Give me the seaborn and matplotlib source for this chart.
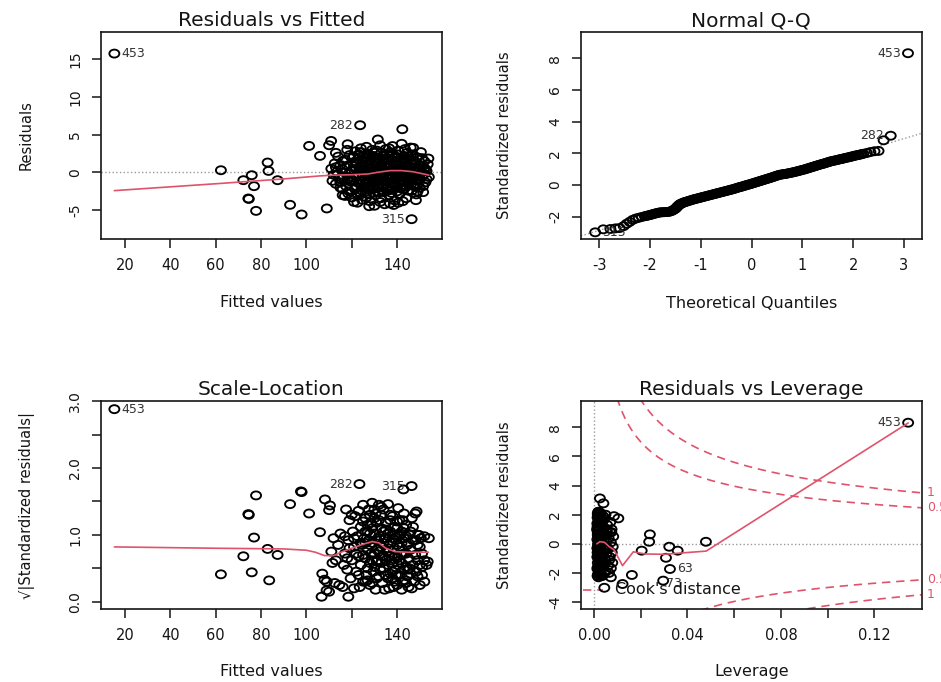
import numpy as np
import seaborn as sns
import matplotlib
matplotlib.use("Agg")
import matplotlib.pyplot as plt
from matplotlib.markers import MarkerStyle
from matplotlib.transforms import Affine2D

# %% data

# Residuals vs Fitted: isolated points
rf_fit_iso = [15.3, 62.3, 72.2, 75.9, 74.4, 74.6, 76.9, 77.8, 82.9, 83.3, 87.3, 92.8, 97.9, 101.2, 106.0,
              109.0, 110.9, 110.0, 118.2, 123.7, 142.3, 146.4, 148.3, 153.8, 131.5, 147.1, 136.9, 127.7, 118.5]
rf_res_iso = [15.74, 0.30, -1.02, -0.36, -3.44, -3.50, -1.81, -5.08, 1.32, 0.21, -1.02, -4.28, -5.56, 3.52, 2.20,
              -4.76, 4.18, 3.61, 3.74, 6.26, 5.73, -6.18, -3.66, 1.85, 4.37, 3.26, -4.10, -4.46, -2.78]
# Residuals vs Fitted: the main cloud
rf_fit = [111, 112, 112.5, 113, 113.5, 114, 114.5, 115, 115, 111.5,
          113, 116, 116, 116.5, 117, 117.5, 118, 118.5, 119, 119,
          119.5, 120, 117, 118, 120, 116, 120.5, 121, 121.5, 122,
          122, 122.5, 123, 123, 123.5, 124, 124, 124.5, 125, 125,
          121, 122.5, 124.5, 125.5, 126, 126, 126.5, 127, 127, 127.5,
          128, 128, 128.5, 128.5, 129, 129, 129.5, 130, 130, 126.5,
          127.5, 129.5, 128, 130.5, 131, 131, 131.5, 132, 132, 132.5,
          133, 133, 133.5, 134, 134, 134.5, 135, 135, 130.5, 132.5,
          134.5, 131.5, 133.5, 131, 135.5, 136, 136, 136.5, 137, 137,
          137.5, 138, 138, 138.5, 139, 139, 139.5, 140, 140, 136.5,
          138.5, 137.5, 139.5, 136, 138, 140.5, 141, 141, 141.5, 142,
          142, 142.5, 143, 143, 143.5, 144, 144, 144.5, 145, 145,
          140.5, 142.5, 143.5, 141.5, 145.5, 146, 146, 146.5, 147, 147,
          147.5, 148, 148, 148.5, 149, 149, 149.5, 150, 150, 146.5,
          150.5, 151, 151, 151.5, 152, 152, 152.5, 153, 153.5, 154,
          151.5, 152.5, 120, 121, 122, 123, 124, 125, 126, 127,
          128, 129, 130, 131, 132, 133, 134, 135, 136, 137,
          138, 139, 140, 141, 142, 143, 144, 145, 146, 147,
          148, 149, 121.5, 123.5, 125.5, 127.5, 129.5, 131.5, 133.5, 135.5,
          137.5, 139.5, 141.5, 143.5, 145.5, 147.5, 124, 126, 130, 134,
          138, 142, 146, 128, 132, 136, 140, 144, 126, 130,
          134, 138]
rf_res = [0.5, -0.3, 1.2, -1.5, 0.1, 2.1, -0.8, -2.0, 1.0, -1.1,
          2.6, -3.0, 0.4, -0.6, 1.7, -1.8, 0.9, -0.2, -2.5, 2.3,
          -1.2, 0.2, -3.1, 3.0, -3.3, 1.5, 1.3, -0.7, 2.8, -1.9,
          0.5, -2.8, 1.8, -0.2, -1.1, 3.2, 0.9, -3.6, -0.5, 2.1,
          -3.9, -4.0, -2.4, 0.3, -1.6, 1.4, 3.4, -0.9, 2.5, -2.9,
          0.7, -3.8, 1.9, -0.1, -1.4, 3.0, -2.2, 0.4, -4.4, -3.3,
          1.0, 2.2, -0.6, 1.6, -0.8, 2.9, -2.6, 0.2, -1.7, 3.6,
          1.1, -3.4, -0.3, 2.3, -1.2, 0.8, -2.1, 3.1, -3.0, -3.9,
          -4.2, 0.9, 1.8, -1.9, 0.5, -0.6, 1.9, -3.0, 2.7, -1.4,
          0.1, 3.5, -2.3, 1.2, -0.9, -3.7, 2.1, 0.6, -1.8, 3.2,
          -4.3, -2.7, 1.5, 0.9, -0.4, 2.9, -0.2, -2.9, 1.4, -1.3,
          3.8, 0.4, -2.2, 2.2, -0.7, 1.0, -3.4, 2.6, -1.5, 0.2,
          -4.0, -3.8, 3.1, 0.8, 1.8, -0.9, 3.3, -2.4, 0.6, 2.4,
          -1.7, 1.2, -0.3, -2.9, 2.0, 0.3, -1.1, 1.0, -2.0, 0.0,
          2.7, -0.5, 0.8, -1.8, 1.5, -0.2, 0.4, -0.9, 1.1, -0.6,
          -2.6, -1.3, -1.0, 0.8, -0.4, 2.4, -1.6, 1.0, -0.2, 0.2,
          2.3, -0.8, 1.2, 0.1, -0.9, 0.5, -2.6, -0.4, -1.9, 1.0,
          0.4, -1.6, 1.9, -1.0, 0.9, -0.1, -1.9, 2.1, -1.2, -0.5,
          0.7, -1.6, -2.2, 0.3, -2.0, -1.3, 0.9, 1.9, -2.0, 2.4,
          -0.8, -0.2, -2.1, 1.4, -0.6, 0.3, 2.7, 2.0, 2.6, 1.5,
          2.5, 1.7, 1.5, -2.3, -2.6, -2.4, -2.5, -0.9, -2.6, -1.9,
          0.0, -1.2]
rf_fit_core = [119, 120.5, 122, 123.5, 125, 126.5, 128, 129.5, 131, 132.5,
               134, 135.5, 137, 138.5, 140, 141.5, 143, 144.5, 146, 147.5,
               121, 123, 125, 127, 129, 131, 133, 135, 137, 139,
               141, 143, 145, 147, 149, 124, 128, 132, 136, 140,
               144, 148, 122, 126, 130, 134, 138, 142, 146, 150,
               117, 115, 113, 118, 116, 150, 152, 149, 151, 153]
rf_res_core = [-0.6, 2.0, 1.1, -2.6, 0.7, -1.2, 1.5, -2.7, 0.5, -0.5,
               -0.7, 1.2, -2.2, -1.5, 2.4, 0.2, 0.9, -1.2, 0.6, 1.6,
               2.1, -1.4, -1.1, 1.6, -0.5, -1.1, 2.6, 1.7, -0.2, 0.9,
               1.1, -1.6, -2.4, -1.0, -0.4, -2.9, 0.1, 1.3, 0.2, -0.7,
               0.5, -1.9, 1.4, -0.9, -0.8, -1.7, 1.6, -0.5, 2.2, 0.3,
               0.0, -1.3, 0.7, -1.0, -2.2, -0.9, 0.6, -2.5, 1.9, 0.2]
rf_smooth_x = [15.3, 62, 90, 106, 112, 120, 127, 132, 137, 142, 147, 151, 154]
rf_smooth_y = [-2.4, -1.45, -0.85, -0.45, -0.35, -0.3, -0.2, 0.05, 0.25, 0.25, 0.1, -0.15, -0.35]

# Normal Q-Q (the band is read at two offsets to keep it as dense as the original)
qq_theo = [-3.08, -2.92, -2.78, -2.68, -2.6, -2.52, -2.46, -2.4, -2.34, -2.28,
           -2.22, -2.16, -2.1, -2.04, -1.98, -1.92, -1.86, -1.8, -1.74, -1.68,
           -1.62, -1.56, -1.5, -1.46, -1.42, -1.38, -1.33, -1.28, -1.22, -1.16,
           -1.1, -1.04, -0.98, -0.92, -0.86, -0.8, -0.74, -0.68, -0.62, -0.56,
           -0.5, -0.44, -0.38, -0.32, -0.26, -0.2, -0.14, -0.08, -0.02, 0.04,
           0.1, 0.16, 0.22, 0.28, 0.34, 0.4, 0.46, 0.52, 0.58, 0.64,
           0.7, 0.76, 0.82, 0.88, 0.94, 1.0, 1.06, 1.12, 1.18, 1.24,
           1.3, 1.36, 1.42, 1.48, 1.54, 1.6, 1.66, 1.72, 1.78, 1.84,
           1.9, 1.96, 2.02, 2.08, 2.14, 2.2, 2.27, 2.34, 2.42, 2.5,
           2.6, 2.74, 3.08]
qq_sample = [-2.99, -2.80, -2.78, -2.74, -2.72, -2.60, -2.45, -2.33, -2.20, -2.12,
             -2.07, -2.02, -1.97, -1.93, -1.88, -1.82, -1.77, -1.73, -1.72, -1.71,
             -1.69, -1.62, -1.50, -1.36, -1.24, -1.17, -1.10, -1.05, -0.99, -0.93,
             -0.88, -0.83, -0.78, -0.73, -0.68, -0.63, -0.58, -0.53, -0.48, -0.43,
             -0.38, -0.33, -0.28, -0.22, -0.16, -0.11, -0.05, 0.01, 0.06, 0.12,
             0.18, 0.24, 0.30, 0.36, 0.42, 0.48, 0.55, 0.61, 0.66, 0.69,
             0.72, 0.76, 0.80, 0.85, 0.90, 0.95, 1.00, 1.06, 1.12, 1.18,
             1.24, 1.30, 1.35, 1.41, 1.47, 1.52, 1.56, 1.61, 1.65, 1.70,
             1.74, 1.79, 1.84, 1.88, 1.92, 1.97, 2.02, 2.08, 2.13, 2.15,
             2.82, 3.11, 8.32]
qq_theo_b = [-2.07, -2.01, -1.95, -1.89, -1.83, -1.77, -1.71, -1.65, -1.59, -1.53,
             -1.48, -1.44, -1.40, -1.355, -1.305, -1.25, -1.19, -1.13, -1.07, -1.01,
             -0.95, -0.89, -0.83, -0.77, -0.71, -0.65, -0.59, -0.53, -0.47, -0.41,
             -0.35, -0.29, -0.23, -0.17, -0.11, -0.05, 0.01, 0.07, 0.13, 0.19,
             0.25, 0.31, 0.37, 0.43, 0.49, 0.55, 0.61, 0.67, 0.73, 0.79,
             0.85, 0.91, 0.97, 1.03, 1.09, 1.15, 1.21, 1.27, 1.33, 1.39,
             1.45, 1.51, 1.57, 1.63, 1.69, 1.75, 1.81, 1.87, 1.93, 1.99,
             2.05, 2.11, 2.17]
qq_sample_b = [-1.95, -1.90, -1.85, -1.80, -1.75, -1.725, -1.715, -1.70, -1.66, -1.56,
               -1.43, -1.30, -1.20, -1.13, -1.07, -1.02, -0.96, -0.90, -0.85, -0.80,
               -0.75, -0.70, -0.65, -0.60, -0.55, -0.50, -0.45, -0.40, -0.35, -0.30,
               -0.25, -0.19, -0.13, -0.08, -0.02, 0.03, 0.09, 0.15, 0.21, 0.27,
               0.33, 0.39, 0.45, 0.51, 0.58, 0.64, 0.67, 0.70, 0.74, 0.78,
               0.82, 0.87, 0.92, 0.97, 1.03, 1.09, 1.15, 1.21, 1.27, 1.32,
               1.38, 1.44, 1.50, 1.54, 1.58, 1.63, 1.67, 1.72, 1.76, 1.81,
               1.86, 1.90, 1.95]
qq_line_intercept = 0.03
qq_line_slope = 0.965

# Scale-Location
sl_fit_iso = [15.3, 62.3, 72.2, 74.4, 74.6, 75.9, 76.9, 77.8, 82.9, 83.6, 87.3, 92.8, 97.6, 97.9,
              101.2, 106.0, 108.2, 110.4, 110.0, 123.4, 142.8, 146.4, 106.7, 108.9, 118.5, 148.6, 149.3]
sl_val_iso = [2.88, 0.41, 0.68, 1.31, 1.30, 0.44, 0.96, 1.59, 0.79, 0.32, 0.70, 1.46, 1.65, 1.64,
              1.32, 1.04, 1.53, 1.44, 1.37, 1.76, 1.68, 1.73, 0.075, 0.17, 0.075, 1.35, 1.00]
sl_fit = [107, 108, 109, 110, 111, 111.5, 112, 112.5, 113, 114,
          114.5, 115, 116, 116.5, 117, 117.5, 118, 118.5, 119, 119.5,
          120, 120.5, 121, 121, 121.5, 122, 122.5, 123, 123, 123.5,
          124, 124, 124.5, 125, 125, 125.5, 126, 126, 126.5, 127,
          127, 127.5, 128, 128, 128.5, 129, 129, 129.5, 130, 130,
          130.5, 131, 131, 131.5, 132, 132, 132.5, 133, 133, 133.5,
          134, 134, 134.5, 135, 135, 135.5, 136, 136, 136.5, 137,
          137, 137.5, 138, 138, 138.5, 139, 139, 139.5, 140, 140,
          140.5, 141, 141, 141.5, 142, 142, 142.5, 143, 143, 143.5,
          144, 144, 144.5, 145, 145, 145.5, 146, 146, 146.5, 147,
          147, 147.5, 148, 148, 148.5, 149, 149, 149.5, 150, 150,
          150.5, 151, 151, 152, 152, 153, 154, 153.5, 126, 128,
          130, 132, 134, 136, 138, 140, 142, 144, 127, 129,
          131, 133, 135, 137, 139, 141, 143, 145, 128.5, 132.5,
          136.5, 140.5, 144.5, 134.5, 138.5, 142.5, 146.5, 130.5,
          125, 127, 129, 131, 133, 135, 137, 139, 141, 143,
          126, 128, 130, 132, 134, 136, 138, 140, 142, 144]
sl_val = [0.42, 0.33, 0.30, 0.15, 0.75, 0.58, 0.95, 0.28, 0.62, 0.85,
          0.25, 1.02, 0.22, 0.55, 0.72, 1.38, 0.48, 0.92, 1.22, 0.35,
          0.62, 1.05, 0.20, 0.82, 1.28, 0.45, 0.98, 0.68, 1.36, 0.22,
          1.12, 0.55, 0.85, 1.45, 0.30, 0.95, 0.65, 1.25, 0.40, 1.05,
          0.78, 1.38, 0.25, 0.58, 1.18, 0.88, 1.48, 0.45, 0.72, 1.02,
          1.32, 0.35, 0.92, 0.62, 1.22, 1.45, 0.48, 0.82, 1.10, 0.28,
          0.68, 1.38, 0.95, 0.40, 1.18, 0.75, 0.55, 1.46, 0.20, 0.88,
          1.05, 0.62, 0.35, 1.28, 0.78, 0.48, 1.12, 0.92, 0.25, 0.65,
          1.40, 0.82, 0.40, 1.02, 0.58, 0.18, 1.22, 0.72, 0.95, 0.32,
          0.52, 1.15, 0.85, 0.22, 0.65, 1.00, 0.42, 0.78, 1.25, 0.55,
          0.92, 0.30, 0.70, 1.32, 0.45, 0.85, 0.62, 1.00, 0.25, 0.55,
          0.95, 0.72, 0.40, 0.62, 0.98, 0.55, 0.95, 0.60, 0.88, 1.02,
          0.52, 0.75, 0.88, 1.02, 0.95, 0.85, 0.88, 0.72, 0.50, 0.28,
          1.18, 0.58, 0.95, 0.42, 0.68, 1.22, 0.48, 0.88, 0.72, 0.98,
          0.68, 0.55, 0.38, 0.18, 0.22, 0.30, 0.20, 0.18,
          0.70, 1.15, 1.10, 0.60, 1.30, 0.62, 1.30, 1.00, 0.62, 1.10,
          1.05, 0.85, 1.25, 0.38, 0.50, 0.80, 0.58, 1.10, 1.05, 0.98]
sl_fit_core = [121, 123, 125, 127, 129, 131, 133, 135, 137, 139,
               141, 143, 145, 147, 149, 122, 124, 126, 128, 130,
               132, 134, 136, 138, 140, 142, 144, 146, 148, 150,
               120, 119, 118, 117, 151, 152, 127.5, 133.5, 139.5, 145.5]
sl_val_core = [0.95, 0.40, 1.20, 0.32, 0.62, 0.78, 1.42, 1.08, 1.22, 0.30,
               0.98, 1.32, 0.48, 1.12, 0.38, 0.72, 0.88, 0.30, 1.30, 1.38,
               0.95, 1.05, 0.35, 0.45, 1.20, 0.70, 0.28, 1.05, 0.92, 0.82,
               1.30, 0.80, 0.65, 0.98, 0.52, 0.30, 0.92, 0.68, 0.40, 0.50]
sl_smooth_x = [15.3, 60, 90, 100, 104, 108, 112, 116, 120, 125, 129, 132, 135, 139, 145, 153.8]
sl_smooth_y = [0.82, 0.80, 0.79, 0.77, 0.74, 0.69, 0.69, 0.75, 0.80, 0.86, 0.90, 0.88, 0.80, 0.75, 0.74, 0.74]

# Residuals vs Leverage
lv_lev_iso = [0.1345, 0.0025, 0.0040, 0.0104, 0.0239, 0.0236, 0.0204, 0.0322, 0.0358, 0.0308,
              0.0325, 0.0296, 0.0162, 0.0122, 0.0072, 0.0072, 0.0044, 0.0479, 0.0075, 0.0085]
lv_std_iso = [8.32, 3.12, 2.78, 1.75, 0.65, 0.14, -0.47, -0.20, -0.47, -0.96,
              -1.73, -2.53, -2.14, -2.76, -2.30, -1.68, -3.02, 0.14, 1.0, 1.9]
lv_lev = [0.0015, 0.0018, 0.0014, 0.0022, 0.0016, 0.0020, 0.0027, 0.0017, 0.0032, 0.0019,
          0.0024, 0.0014, 0.0037, 0.0021, 0.0030, 0.0015, 0.0042, 0.0020, 0.0026, 0.0017,
          0.0047, 0.0028, 0.0016, 0.0034, 0.0023, 0.0052, 0.0019, 0.0040, 0.0026, 0.0015,
          0.0057, 0.0021, 0.0031, 0.0018, 0.0044, 0.0023, 0.0062, 0.0016, 0.0036, 0.0019,
          0.0050, 0.0028, 0.0014, 0.0067, 0.0024, 0.0039, 0.0017, 0.0054, 0.0021, 0.0072,
          0.0027, 0.0015, 0.0046, 0.0032, 0.0018, 0.0060, 0.0023, 0.0016, 0.0038, 0.0070,
          0.0020, 0.0029, 0.0049, 0.0017, 0.0076, 0.0025, 0.0056, 0.0014, 0.0035, 0.0064,
          0.0022, 0.0042, 0.0019, 0.0074, 0.0026, 0.0052, 0.0016, 0.0033, 0.0080, 0.0045,
          0.0013, 0.0019, 0.0024, 0.0030, 0.0035, 0.0041, 0.0018, 0.0022, 0.0028, 0.0015,
          0.0020, 0.0033, 0.0025, 0.0017, 0.0044, 0.0029, 0.0014, 0.0021, 0.0038, 0.0026,
          0.0055, 0.0048, 0.0065, 0.0059, 0.0069, 0.0078, 0.0082, 0.0035, 0.0016, 0.0023]
lv_std = [1.8, -0.5, 0.3, -1.2, 2.0, 0.9, -2.1, -1.7, 1.4, -0.1,
          0.6, -0.9, -0.7, 1.2, -1.4, -2.2, 0.2, 1.6, -0.3, 0.0,
          -1.1, 2.1, -1.3, 0.8, -1.9, 1.0, 0.5, -1.6, 1.8, -0.6,
          -0.4, -2.0, 0.1, 1.1, 1.7, -0.8, 0.4, 0.7, -2.2, -1.0,
          -1.9, 1.3, 1.4, -0.9, -1.5, 1.9, -2.1, 0.6, 0.2, 0.1,
          -0.2, 0.9, -0.2, -1.0, 2.2, -1.5, 1.5, -1.6, 0.5, 1.5,
          -0.4, -1.8, 2.0, 1.9, -0.6, 0.4, 1.3, -0.3, -0.5, -2.0,
          2.1, -1.3, -2.3, 0.8, 1.0, -0.7, 0.6, 1.7, -0.2, -2.0,
          1.0, 1.5, -1.0, 0.3, 0.7, -0.4, -0.2, -1.5, 0.6, 1.2,
          -1.9, -2.2, 1.9, 0.4, 1.1, -0.6, -1.7, 2.2, 1.6, -2.1,
          0.9, 0.6, -1.1, -0.3, 0.8, -1.3, 0.5, -1.2, 2.1, -0.8]
lv_smooth_x = [0.0012, 0.0025, 0.0045, 0.0065, 0.0085, 0.0122, 0.0168, 0.022, 0.030, 0.048, 0.1345]
lv_smooth_y = [0.0, 0.15, 0.1, -0.2, -0.4, -1.5, -0.55, -0.7, -0.72, -0.5, 8.3]
cook_levels = [0.5, 1.0]
n_params = 2

# %% style
sns.set_theme(style="white")
plt.rcParams['font.family'] = ['DejaVu Sans']

INK = '#151515'
RED = '#DF536B'
GREY = '#9a9a9a'
ring = MarkerStyle('o', transform=Affine2D().scale(1.25, 1.0))

fig = plt.figure(figsize=(9.41, 6.82), dpi=100)
ax1 = fig.add_axes([0.1073, 0.6496, 0.3624, 0.3035])
ax2 = fig.add_axes([0.6174, 0.6496, 0.3621, 0.3035])
ax3 = fig.add_axes([0.1073, 0.1070, 0.3624, 0.3050])
ax4 = fig.add_axes([0.6174, 0.1070, 0.3621, 0.3050])


def rings(ax, x, y):
    sns.scatterplot(x=x, y=y, ax=ax, marker=ring, s=33, facecolor='none',
                    edgecolor='black', linewidth=1.35, legend=False, zorder=3)


def dress(ax, title, xlabel, ylabel, xticks, xlabels, yticks, ylabels, xlim, ylim, ylab_x, xlab_y):
    ax.set_xlim(*xlim)
    ax.set_ylim(*ylim)
    ax.set_xticks(xticks, labels=xlabels, fontsize=10.5, color=INK)
    ax.set_yticks(yticks, labels=ylabels, fontsize=10, color=INK, rotation=90, va='center')
    ax.tick_params(axis='both', direction='out', length=6.5, width=1.1, color=INK,
                   bottom=True, left=True)
    ax.tick_params(axis='x', pad=7.5)
    ax.tick_params(axis='y', pad=7)
    for sp in ax.spines.values():
        sp.set_visible(True)
        sp.set_color(INK)
        sp.set_linewidth(1.2)
    ax.set_title(title, fontsize=14.5, color=INK, pad=4)
    ax.set_xlabel(xlabel, fontsize=11.5, color=INK)
    ax.set_ylabel(ylabel, fontsize=10.5, color=INK)
    ax.xaxis.set_label_coords(0.5, xlab_y)
    ax.xaxis.label.set_va('center')
    ax.yaxis.set_label_coords(ylab_x, 0.5)
    ax.yaxis.label.set_va('center')


def tag(ax, x, y, s, side):
    ax.annotate(s, (x, y), xytext=(5 if side == 'r' else -5, 0), textcoords='offset points',
                ha='left' if side == 'r' else 'right', va='center', fontsize=9, color='#333333')


# %% Residuals vs Fitted
ax1.axhline(0, color=GREY, lw=1.0, ls=':', zorder=1)
rings(ax1, rf_fit_iso + rf_fit + rf_fit_core, rf_res_iso + rf_res + rf_res_core)
sns.lineplot(x=rf_smooth_x, y=rf_smooth_y, ax=ax1, color=RED, lw=1.2, estimator=None, sort=False, zorder=4)
tag(ax1, 15.3, 15.74, '453', 'r')
tag(ax1, 123.7, 6.26, '282', 'l')
tag(ax1, 146.4, -6.18, '315', 'l')
dress(ax1, 'Residuals vs Fitted', 'Fitted values', 'Residuals',
      [20, 40, 60, 80, 100, 120, 140], ['20', '40', '60', '80', '100', '', '140'],
      [-5, 0, 5, 10, 15], ['-5', '0', '5', '10', '15'],
      (9.4, 159.8), (-8.8, 18.6), -0.220, -0.309)

# %% Normal Q-Q
ax2.axline((0, qq_line_intercept), slope=qq_line_slope, color=GREY, lw=1.0, ls=':', zorder=1)
rings(ax2, qq_theo + qq_theo_b, qq_sample + qq_sample_b)
tag(ax2, 3.08, 8.32, '453', 'l')
tag(ax2, 2.74, 3.11, '282', 'l')
tag(ax2, -3.08, -2.99, '315', 'r')
dress(ax2, 'Normal Q-Q', 'Theoretical Quantiles', 'Standardized residuals',
      [-3, -2, -1, 0, 1, 2, 3], ['-3', '-2', '-1', '0', '1', '2', '3'],
      [-2, 0, 2, 4, 6, 8], ['-2', '0', '2', '4', '6', '8'],
      (-3.36, 3.35), (-3.41, 9.66), -0.223, -0.311)

# %% Scale-Location
rings(ax3, sl_fit_iso + sl_fit + sl_fit_core, sl_val_iso + sl_val + sl_val_core)
sns.lineplot(x=sl_smooth_x, y=sl_smooth_y, ax=ax3, color=RED, lw=1.2, estimator=None, sort=False, zorder=4)
tag(ax3, 15.3, 2.88, '453', 'r')
tag(ax3, 123.4, 1.76, '282', 'l')
tag(ax3, 146.4, 1.73, '315', 'l')
dress(ax3, 'Scale-Location', 'Fitted values', '√|Standardized residuals|',
      [20, 40, 60, 80, 100, 120, 140], ['20', '40', '60', '80', '100', '', '140'],
      [0.0, 0.5, 1.0, 1.5, 2.0, 2.5, 3.0], ['0.0', '', '1.0', '', '2.0', '', '3.0'],
      (9.4, 159.8), (-0.109, 3.002), -0.218, -0.301)

# %% Residuals vs Leverage
ax4.axhline(0, color=GREY, lw=1.0, ls=':', zorder=1)
ax4.axvline(0, color=GREY, lw=1.0, ls=':', zorder=1)
hh = np.linspace(0.004, 0.1403, 300)
for lvl in cook_levels:
    bound = np.sqrt(lvl * n_params * (1 - hh) / hh)
    ax4.plot(hh, bound, color=RED, lw=1.2, ls=(0, (5, 3.5)), zorder=2)
    ax4.plot(hh, -bound, color=RED, lw=1.2, ls=(0, (5, 3.5)), zorder=2)
    yb = np.sqrt(lvl * n_params * (1 - 0.1403) / 0.1403)
    for sgn in (1, -1):
        ax4.text(0.1425, sgn * yb, f'{lvl:g}', color=RED, fontsize=9, va='center', ha='left',
                 clip_on=False)
rings(ax4, lv_lev_iso + lv_lev, lv_std_iso + lv_std)
sns.lineplot(x=lv_smooth_x, y=lv_smooth_y, ax=ax4, color=RED, lw=1.2, estimator=None, sort=False, zorder=4)
tag(ax4, 0.1345, 8.32, '453', 'l')
tag(ax4, 0.0325, -1.73, '63', 'r')
ax4.text(0.0306, -2.75, '73', fontsize=9, color='#333333', ha='left', va='center')
ax4.plot([-0.0048, 0.0040], [-3.17, -3.17], color=RED, lw=1.2, ls=(0, (5, 3.5)), zorder=2)
ax4.text(0.0090, -3.17, "Cook's distance", fontsize=11.5, color=INK, ha='left', va='center')
dress(ax4, 'Residuals vs Leverage', 'Leverage', 'Standardized residuals',
      [0.0, 0.02, 0.04, 0.06, 0.08, 0.10, 0.12], ['0.00', '', '0.04', '', '0.08', '', '0.12'],
      [-4, -2, 0, 2, 4, 6, 8], ['-4', '-2', '0', '2', '4', '6', '8'],
      (-0.0056, 0.1403), (-4.48, 9.81), -0.223, -0.301)

fig.savefig('out.png', dpi=100)
